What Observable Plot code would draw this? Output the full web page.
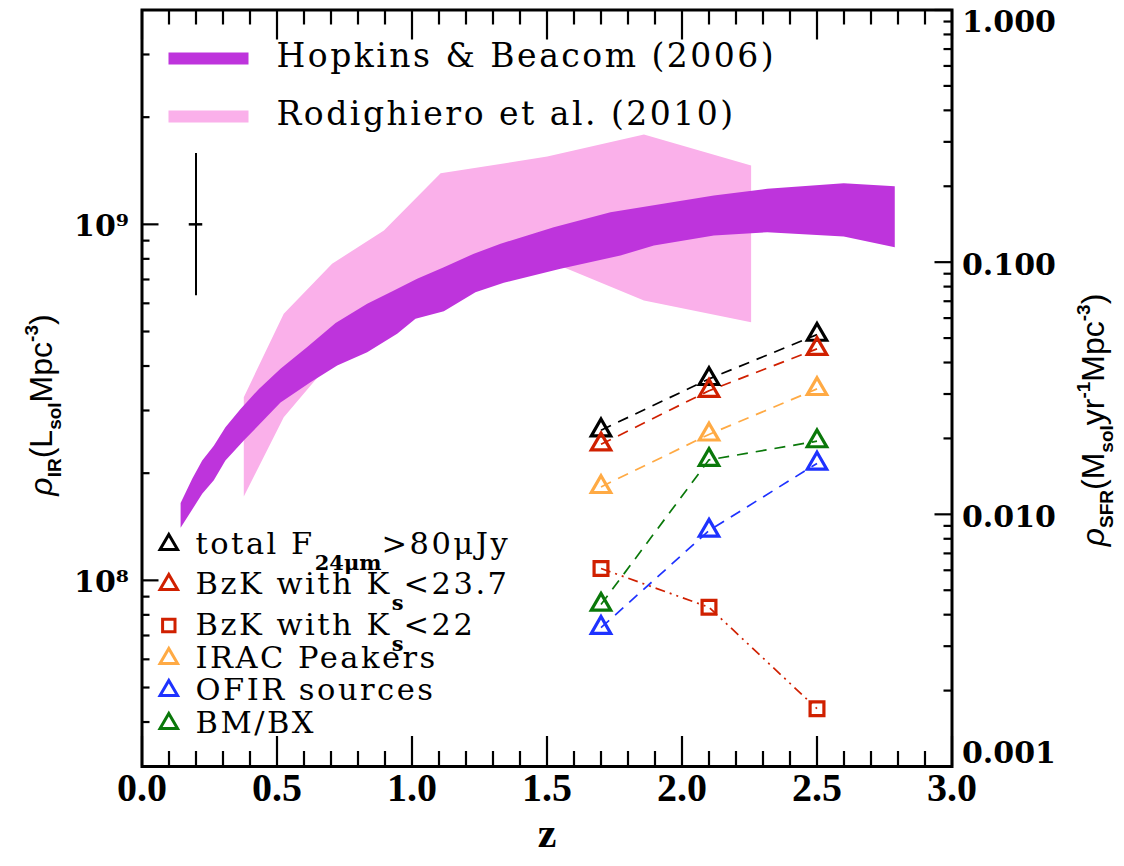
<!DOCTYPE html>
<html><head><meta charset="utf-8">
<script src="https://cdn.jsdelivr.net/npm/d3@7"></script>
<script src="https://cdn.jsdelivr.net/npm/@observablehq/plot@0.6"></script>
<style>body{margin:0;background:#fff;} svg{display:block}</style>
</head><body><div id="chart"></div>
<script>
// ---------------- DATA ----------------
// Hopkins & Beacom (2006) band (rho_IR, Lsol Mpc^-3)
const hbUpperZ   = [0.143,0.186,0.223,0.266,0.309,0.365,0.433,0.513,0.612,0.717,0.834,0.933,1.019,1.118,1.229,1.328,1.525,1.735,2.118,2.316,2.599,2.788];
const hbUpperRho = [1.65e8,1.93e8,2.17e8,2.39e8,2.69e8,3.03e8,3.45e8,3.93e8,4.52e8,5.28e8,5.98e8,6.52e8,7.03e8,7.58e8,8.27e8,8.82e8,9.81e8,1.081e9,1.205e9,1.259e9,1.305e9,1.280e9];
const hbLowerZ   = [0.143,0.223,0.266,0.309,0.377,0.513,0.624,0.723,0.834,0.945,1.013,1.118,1.235,1.340,1.550,1.772,1.896,2.118,2.316,2.599,2.788];
const hbLowerRho = [1.405e8,1.75e8,1.91e8,2.17e8,2.47e8,3.16e8,3.60e8,4.01e8,4.37e8,4.93e8,5.43e8,5.70e8,6.45e8,6.85e8,7.50e8,8.17e8,8.72e8,9.30e8,9.50e8,9.24e8,8.62e8];
// Rodighiero et al. (2010) band
const rodZ        = [0.377,0.525,0.704,0.896,1.106,1.501,1.859,2.256];
const rodUpperRho = [3.27e8,5.61e8,7.75e8,9.61e8,1.392e9,1.55e9,1.788e9,1.463e9];
const rodLowerRho = [1.72e8,2.87e8,4.15e8,5.20e8,6.31e8,7.91e8,6.11e8,5.31e8];
// typical error bar
const errZ = [0.2], errRho = [1e9], errLo = [6.3e8], errHi = [1.58e9], errDz = [0.025];
// samples
const sampleZ    = [1.7, 2.1, 2.5];
const rhoTotal24 = [2.64e8, 3.68e8, 4.90e8];
const rhoBzK237  = [2.41e8, 3.41e8, 4.47e8];
const rhoBzK22   = [1.08e8, 8.4e7, 4.36e7];
const rhoIRAC    = [1.83e8, 2.57e8, 3.45e8];
const rhoOFIR    = [7.36e7, 1.38e8, 2.13e8];
const rhoBMBX    = [8.55e7, 2.18e8, 2.46e8];
const sampleLabels = [
  [["total F"],["24μm","sub"],[">80μJy"]],
  [["BzK with K"],["s","sub"],["<23.7"]],
  [["BzK with K"],["s","sub"],["<22"]],
  [["IRAC Peakers"]],
  [["OFIR sources"]],
  [["BM/BX"]]
];
const bandLabels = ["Hopkins & Beacom (2006)", "Rodighiero et al. (2010)"];
// axes
const xTicks = [0, 0.5, 1, 1.5, 2, 2.5, 3];
const xTickLabels = ["0.0","0.5","1.0","1.5","2.0","2.5","3.0"];
const yTicks = [1e8, 1e9];
const yTickLabels = ["10⁸", "10⁹"];
const sfrTicks = [1, 0.1, 0.01, 0.001];
const sfrTickLabels = ["1.000", "0.100", "0.010", "0.001"];

// ---------------- LAYOUT / STYLE ----------------
const W = 1124, H = 866, mL = 141.5, mR = 172.5, mT = 9.5, mB = 100;
const fW = W - mL - mR, fH = H - mT - mB;
const yDom = [3e7, 4e9];
const lt = Math.log10(yDom[1]), lb = Math.log10(yDom[0]);
const sfrToRho = s => Math.pow(10, lt + Math.log10(s) * (lt - lb) / 3);
const styles = [
  {color: "#000000", symbol: "triangle", dash: "11,8"},
  {color: "#D02000", symbol: "triangle", dash: "11,8"},
  {color: "#D02000", symbol: "square",   dash: "10,5,2,5,2,5"},
  {color: "#FFAA44", symbol: "triangle", dash: "11,8"},
  {color: "#1E32FF", symbol: "triangle", dash: "11,8"},
  {color: "#0A780A", symbol: "triangle", dash: "11,8"}
];
const PURPLE = "#BE34DC", PINK = "#FAB0EA";

const hbPoly = hbUpperZ.map((z, i) => ({z, rho: hbUpperRho[i]}))
  .concat(hbLowerZ.map((z, i) => ({z, rho: hbLowerRho[i]})).reverse());
const rodPoly = rodZ.map((z, i) => ({z, rho: rodUpperRho[i]}))
  .concat(rodZ.map((z, i) => ({z, rho: rodLowerRho[i]})).reverse());
const samples = [rhoTotal24, rhoBzK237, rhoBzK22, rhoIRAC, rhoOFIR, rhoBMBX];
const sampleData = samples.map(arr => arr.map((rho, i) => ({z: sampleZ[i], rho})));

const xMinor = d3.range(0, 31).map(i => i / 10).filter(v => Math.abs(v * 2 - Math.round(v * 2)) > 1e-6);
const yMinor = [];
for (let e = 7; e <= 9; e++) for (let k = 2; k <= 9; k++) { const v = k * 10 ** e; if (v > yDom[0] * 1.01 && v < yDom[1] * 0.99) yMinor.push(v); }
const sMinor = [];
for (let e = -3; e <= -1; e++) for (let k = 2; k <= 9; k++) sMinor.push(k * 10 ** e);

const serif = "DejaVu Serif";
const marks = [];
// bands
marks.push(Plot.line(rodPoly, {x: "z", y: "rho", fill: PINK, stroke: "none", curve: "linear-closed"}));
marks.push(Plot.line(hbPoly, {x: "z", y: "rho", fill: PURPLE, stroke: "none", curve: "linear-closed"}));
// error bar
marks.push(Plot.ruleX(errZ, {x: d => d, y1: errLo, y2: errHi, strokeWidth: 2}));
marks.push(Plot.ruleY(errRho, {y: d => d, x1: errZ[0] - errDz[0], x2: errZ[0] + errDz[0], strokeWidth: 2.5}));
// sample lines + markers
sampleData.forEach((data, i) => {
  const s = styles[i];
  marks.push(Plot.line(data, {x: "z", y: "rho", stroke: s.color, strokeWidth: 1.7, strokeDasharray: s.dash, strokeLinecap: "butt"}));
});
sampleData.forEach((data, i) => {
  const s = styles[i];
  marks.push(Plot.dot(data, {x: "z", y: "rho", symbol: s.symbol, r: s.symbol === "square" ? 7.8 : 7.2, stroke: s.color, strokeWidth: 3.2, fill: "none"}));
});
// ticks (inward)
const tk = {stroke: "black", strokeWidth: 2.2};
marks.push(Plot.ruleX(xTicks, {x: d => d, insetTop: fH - 30, ...tk}));
marks.push(Plot.ruleX(xTicks, {x: d => d, insetBottom: fH - 30, ...tk}));
marks.push(Plot.ruleX(xMinor, {x: d => d, insetTop: fH - 15, ...tk}));
marks.push(Plot.ruleX(xMinor, {x: d => d, insetBottom: fH - 15, ...tk}));
marks.push(Plot.ruleY(yTicks, {y: d => d, insetRight: fW - 17, ...tk}));
marks.push(Plot.ruleY(yMinor, {y: d => d, insetRight: fW - 8, ...tk}));
marks.push(Plot.ruleY(sfrTicks, {y: d => sfrToRho(d), insetLeft: fW - 17, ...tk}));
marks.push(Plot.ruleY(sMinor, {y: d => sfrToRho(d), insetLeft: fW - 8, ...tk}));
marks.push(Plot.frame({stroke: "black", strokeWidth: 3}));
// tick labels
marks.push(Plot.text(xTicks, {x: d => d, text: (d, i) => xTickLabels[i], frameAnchor: "bottom", dy: 34, fontFamily: "Liberation Serif", fontWeight: "bold", fontSize: 40, fill: "black"}));
marks.push(Plot.text(yTicks, {y: d => d, text: (d, i) => yTickLabels[i], frameAnchor: "left", textAnchor: "end", dx: -13, dy: 2, fontFamily: serif, fontWeight: "bold", fontSize: 30, fill: "black"}));
sfrTicks.forEach((s, i) => {
  const dy = i === 0 ? 12 : i === sfrTicks.length - 1 ? -13 : 3;
  marks.push(Plot.text([s], {y: d => sfrToRho(d), text: () => sfrTickLabels[i], frameAnchor: "right", textAnchor: "start", dx: 10, dy, fontFamily: serif, fontWeight: "bold", fontSize: 30, fill: "black"}));
});
marks.push(Plot.text(["z"], {text: d => d, frameAnchor: "bottom", dy: 80, fontFamily: "Liberation Serif", fontWeight: "bold", fontSize: 42, fill: "black"}));
// top legend
const bandColors = [PURPLE, PINK];
const bandRowY = [58, 116];
bandLabels.forEach((lab, i) => {
  const cy = bandRowY[i] - mT;
  marks.push(Plot.frame({fill: bandColors[i], stroke: "none", insetLeft: 26.5, insetRight: fW - 106.5, insetTop: cy - 6, insetBottom: fH - cy - 6}));
  marks.push(Plot.text([lab], {text: d => d, frameAnchor: "top-left", dx: 134.5, dy: cy - 2, textAnchor: "start", lineAnchor: "middle", fontFamily: serif, fontSize: 33, fill: "black", className: "legtop"}));
});
// bottom legend
const legRowY = [544, 584, 625, 658, 690, 723];
sampleLabels.forEach((parts, i) => {
  const s = styles[i];
  const cy = legRowY[i] - mT;
  marks.push(Plot.dot([0], {frameAnchor: "top-left", dx: 26.8, dy: cy, symbol: s.symbol, r: s.symbol === "square" ? 7 : 6.5, stroke: s.color, strokeWidth: 3, fill: "none"}));
  marks.push(Plot.text([parts.map(p => p[0]).join("")], {text: d => d, frameAnchor: "top-left", dx: 53.5, dy: cy, textAnchor: "start", lineAnchor: "middle", fontFamily: serif, fontSize: 30.5, fill: "black", className: "legrow-" + i}));
});

const plot = Plot.plot({
  width: W, height: H, marginLeft: mL, marginRight: mR, marginTop: mT, marginBottom: mB,
  style: {background: "white", overflow: "visible"},
  x: {domain: [0, 3], axis: null},
  y: {type: "log", domain: yDom, axis: null},
  marks
});
document.getElementById("chart").appendChild(plot);

const svg = d3.select(plot);
// wide letter spacing like the original vector font
svg.selectAll(".legtop text").attr("letter-spacing", 2.5);
// rich text for legend rows (subscripts)
sampleLabels.forEach((parts, i) => {
  const el = svg.select(".legrow-" + i + " text");
  if (el.empty()) return;
  if (parts.length === 1) { el.attr("letter-spacing", 2.5); return; }
  el.text(null);
  let cur = 0;
  parts.forEach(p => {
    const isSub = p[1] === "sub";
    const target = isSub ? 16 : 0;
    el.append("tspan").attr("dy", target - cur)
      .attr("font-size", isSub ? 21 : 30.5)
      .attr("font-weight", isSub ? "bold" : null)
      .attr("letter-spacing", isSub ? 0 : 2.5)
      .text(p[0]);
    cur = target;
  });
});

// axis titles (with sub/superscripts)
function richTitle(x, y, parts) {
  const t = svg.append("text")
    .attr("transform", `translate(${x},${y}) rotate(-90)`)
    .attr("text-anchor", "middle")
    .attr("font-family", "Liberation Sans")
    .attr("font-size", 32)
    .attr("fill", "black");
  let cur = 0;
  parts.forEach(([txt, kind]) => {
    const off = kind === "sub" ? 9 : kind === "sup" ? -14 : 0;
    t.append("tspan")
      .attr("dy", off - cur)
      .attr("font-size", kind ? 19 : 32)
      .attr("font-weight", kind ? "bold" : null)
      .attr("font-style", txt === "ρ" ? "italic" : null)
      .text(txt);
    cur = off;
  });
}
richTitle(52, 405, [["ρ"],["IR","sub"],["(L"],["sol","sub"],["Mpc"],["-3","sup"],[")"]]);
richTitle(1104, 420, [["ρ"],["SFR","sub"],["(M"],["sol","sub"],["yr"],["-1","sup"],["Mpc"],["-3","sup"],[")"]]);
</script>
</body></html>
